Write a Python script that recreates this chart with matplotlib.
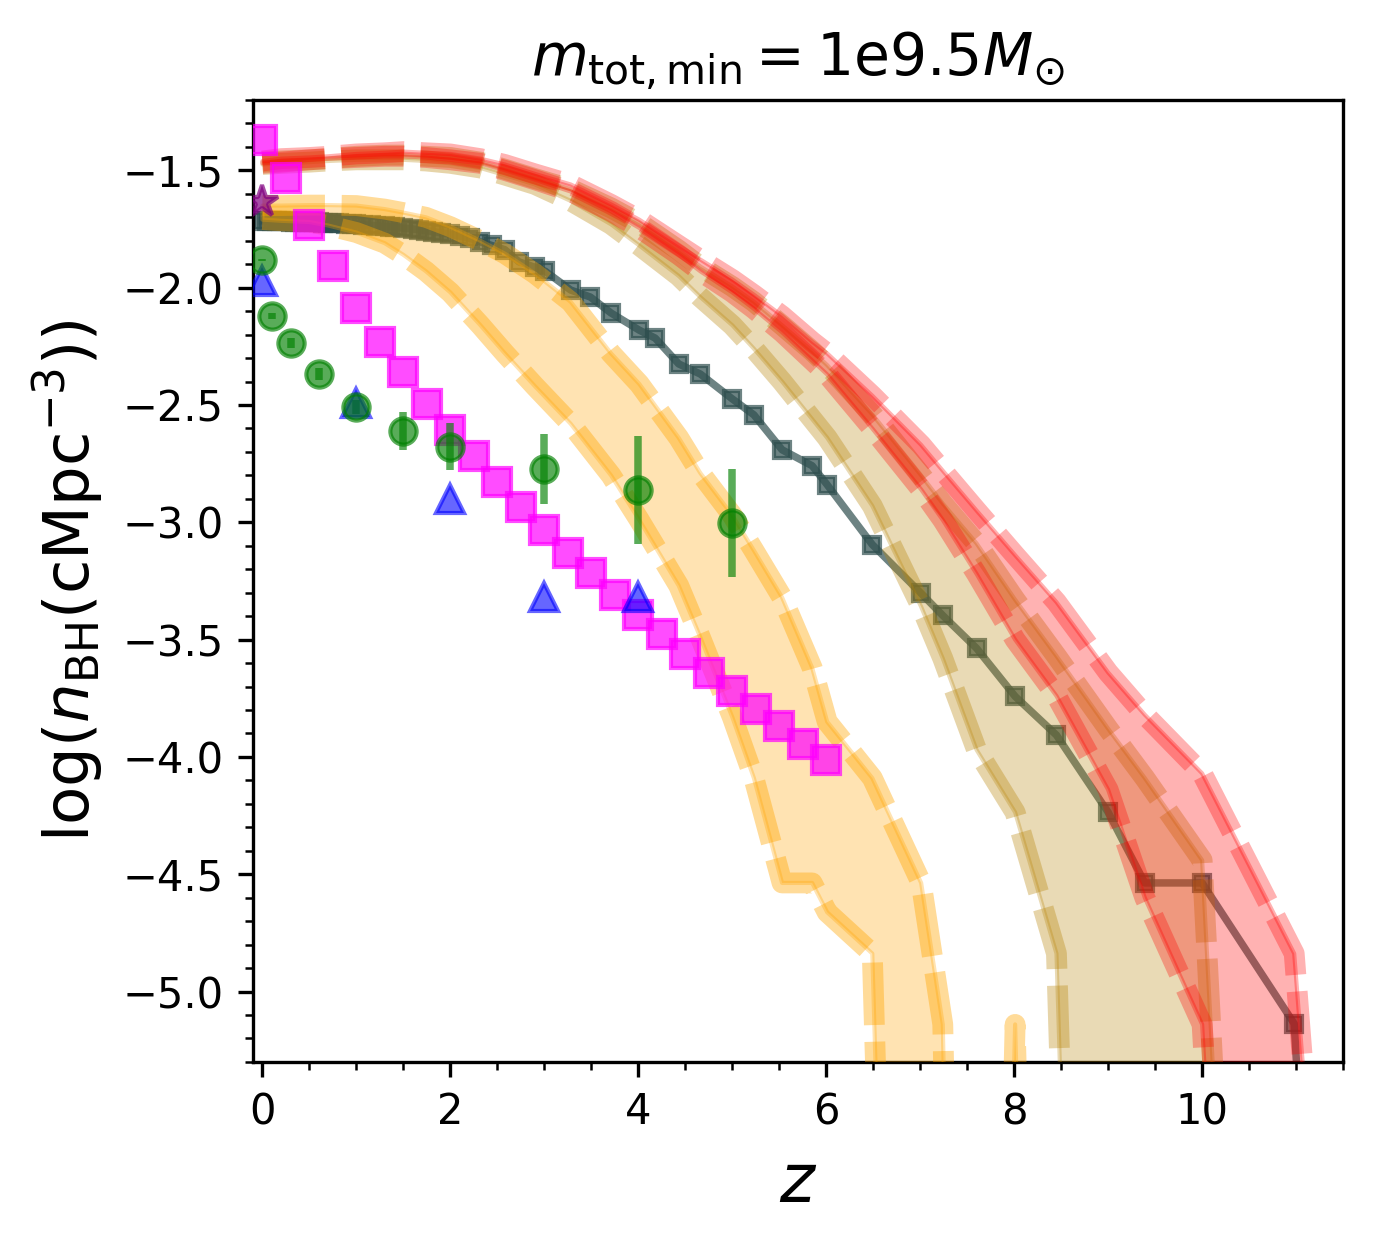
import numpy as np
import matplotlib
matplotlib.use("Agg")
import matplotlib.pyplot as plt
from matplotlib.ticker import MultipleLocator

# ---------------- data ----------------
# redshift grid of the model bands
z_band = [0.0, 0.2, 0.5, 0.7, 1.0, 1.3, 1.5, 1.74, 2.0, 2.32, 2.58, 2.9, 3.28, 3.71, 4.01,
          4.43, 4.66, 5.0, 5.23, 5.53, 5.85, 6.01, 6.49, 7.01, 7.24, 7.6, 8.01, 8.45, 9.0,
          9.39, 10.0, 10.98, 11.98]

orange_up = [-1.65, -1.65, -1.648, -1.648, -1.65, -1.665, -1.68, -1.70, -1.74, -1.80, -1.855,
             -1.94, -2.06, -2.28, -2.41, -2.64, -2.79, -2.97, -3.12, -3.32, -3.62, -3.85,
             -4.09, -4.537, -5.14, -12, -5.14, -12, -12, -12, -12, -12, -12]
orange_lo = [-1.71, -1.715, -1.72, -1.735, -1.765, -1.81, -1.86, -1.93, -2.02, -2.16, -2.28,
             -2.42, -2.58, -2.80, -2.99, -3.27, -3.49, -3.83, -4.09, -4.537, -4.537, -4.662,
             -4.838, -12, -12, -12, -12, -12, -12, -12, -12, -12, -12]

tan_up = [-1.465, -1.46, -1.455, -1.45, -1.44, -1.435, -1.435, -1.44, -1.445, -1.465, -1.495,
          -1.535, -1.58, -1.66, -1.725, -1.84, -1.91, -1.995, -2.06, -2.16, -2.27, -2.33,
          -2.54, -2.80, -2.92, -3.09, -3.33, -3.57, -3.88, -4.09, -4.44, -12, -12]
tan_lo = [-1.475, -1.47, -1.465, -1.46, -1.455, -1.455, -1.455, -1.46, -1.47, -1.49, -1.52,
          -1.56, -1.63, -1.73, -1.82, -1.95, -2.04, -2.16, -2.26, -2.40, -2.56, -2.64,
          -2.93, -3.36, -3.58, -3.97, -4.236, -4.838, -12, -12, -12, -12, -12]

red_up = [-1.46, -1.45, -1.445, -1.44, -1.43, -1.425, -1.42, -1.425, -1.43, -1.45, -1.475,
          -1.515, -1.56, -1.645, -1.71, -1.82, -1.88, -1.965, -2.03, -2.12, -2.23, -2.28,
          -2.46, -2.67, -2.78, -2.95, -3.14, -3.34, -3.64, -3.82, -4.07, -4.838, -10]
red_lo = [-1.47, -1.465, -1.455, -1.45, -1.445, -1.44, -1.44, -1.445, -1.455, -1.47, -1.50,
          -1.54, -1.59, -1.675, -1.745, -1.86, -1.93, -2.02, -2.09, -2.19, -2.31, -2.37,
          -2.60, -2.86, -2.99, -3.22, -3.50, -3.74, -4.14, -4.60, -5.14, -12, -12]

# simulation curve (dark slate gray squares)
z_sim = [0.0, 0.05, 0.1, 0.15, 0.2, 0.26, 0.3, 0.35, 0.4, 0.46, 0.5, 0.55, 0.6, 0.64, 0.7,
         0.76, 0.82, 0.89, 0.95, 1.0, 1.07, 1.15, 1.21, 1.3, 1.36, 1.41, 1.5, 1.6, 1.67,
         1.74, 1.82, 1.9, 2.0, 2.1, 2.21, 2.32, 2.44, 2.58, 2.73, 2.9, 3.01, 3.28, 3.49,
         3.71, 4.01, 4.18, 4.43, 4.66, 5.0, 5.23, 5.53, 5.85, 6.01, 6.49, 7.01, 7.24, 7.6,
         8.01, 8.45, 9.0, 9.39, 10.0, 10.98, 11.98]
n_sim = [-1.715, -1.715, -1.716, -1.716, -1.717, -1.717, -1.718, -1.718, -1.719, -1.72,
         -1.72, -1.721, -1.722, -1.723, -1.724, -1.725, -1.726, -1.728, -1.729, -1.73,
         -1.732, -1.734, -1.736, -1.739, -1.741, -1.743, -1.746, -1.75, -1.753, -1.757,
         -1.761, -1.766, -1.772, -1.78, -1.79, -1.805, -1.82, -1.838, -1.89, -1.913, -1.93,
         -2.01, -2.04, -2.108, -2.181, -2.215, -2.325, -2.368, -2.474, -2.542, -2.691,
         -2.759, -2.84, -3.095, -3.303, -3.397, -3.537, -3.742, -3.907, -4.236, -4.537,
         -4.537, -5.137, -12]

# magenta squares
z_mag = [0.0, 0.25, 0.5, 0.75, 1.0, 1.25, 1.5, 1.75, 2.0, 2.25, 2.5, 2.75, 3.0, 3.25, 3.5,
         3.75, 4.0, 4.25, 4.5, 4.75, 5.0, 5.25, 5.5, 5.75, 6.0]
n_mag = [-1.372, -1.534, -1.734, -1.908, -2.087, -2.232, -2.359, -2.495, -2.606, -2.717,
         -2.827, -2.933, -3.031, -3.129, -3.214, -3.308, -3.393, -3.478, -3.563, -3.644,
         -3.720, -3.797, -3.869, -3.946, -4.014]

# green circles with error bars
z_grn = [0.0, 0.1, 0.3, 0.6, 1.0, 1.5, 2.0, 3.0, 4.0, 5.0]
n_grn = [-1.883, -2.121, -2.236, -2.368, -2.51, -2.61, -2.678, -2.772, -2.861, -3.001]
e_grn = [0.005, 0.013, 0.02, 0.025, 0.03, 0.08, 0.1, 0.15, 0.23, 0.23]

# blue triangles
z_blu = [0.0, 1.0, 2.0, 3.0, 4.0]
n_blu = [-1.97, -2.49, -2.90, -3.32, -3.32]

# purple star
z_star = [0.0]
n_star = [-1.636]

# ---------------- plot ----------------
fig = plt.figure(figsize=(1373 / 300, 1239 / 300), dpi=300)
ax = fig.add_axes([0.1843, 0.1429, 0.7939, 0.7764])

ax.plot(z_sim, n_sim, '-s', color='darkslategray', alpha=0.7, lw=1.8, ms=4, zorder=2)

dash = (0, (3, 0.8))
for up, lo, c, la in [(orange_up, orange_lo, 'orange', 0.4),
                      (tan_up, tan_lo, 'darkgoldenrod', 0.35),
                      (red_up, red_lo, 'red', 0.3)]:
    ax.fill_between(z_band, lo, up, color=c, alpha=0.3, zorder=3)
    ax.plot(z_band, up, linestyle=dash, color=c, alpha=la, lw=5, zorder=3)
    ax.plot(z_band, lo, linestyle=dash, color=c, alpha=la, lw=5, zorder=3)

ax.plot(z_mag, n_mag, 's', color='magenta', alpha=0.7, ms=6.5, zorder=5)
ax.errorbar(z_grn, n_grn, yerr=e_grn, fmt='o', color='green', alpha=0.65, ms=6.3,
            elinewidth=1.8, zorder=5)
ax.plot(z_blu, n_blu, '^', color='blue', alpha=0.6, ms=6.5, zorder=5)
ax.plot(z_star, n_star, '*', color='purple', alpha=0.7, ms=8, zorder=6)

ax.set_xlim(-0.1, 11.5)
ax.set_ylim(-5.3, -1.2)
ax.xaxis.set_minor_locator(MultipleLocator(0.5))
ax.yaxis.set_minor_locator(MultipleLocator(0.1))
ax.tick_params(labelsize=10)

ax.set_xlabel(r'$z$', fontsize=16)
ax.set_ylabel(r'$\log(n_{\rm BH}({\rm cMpc}^{-3}))$', fontsize=15)
ax.set_title(r'$m_{\rm tot,min} = $1e9.5$M_{\odot}$', fontsize=14)

fig.savefig('out.png', dpi=300)
